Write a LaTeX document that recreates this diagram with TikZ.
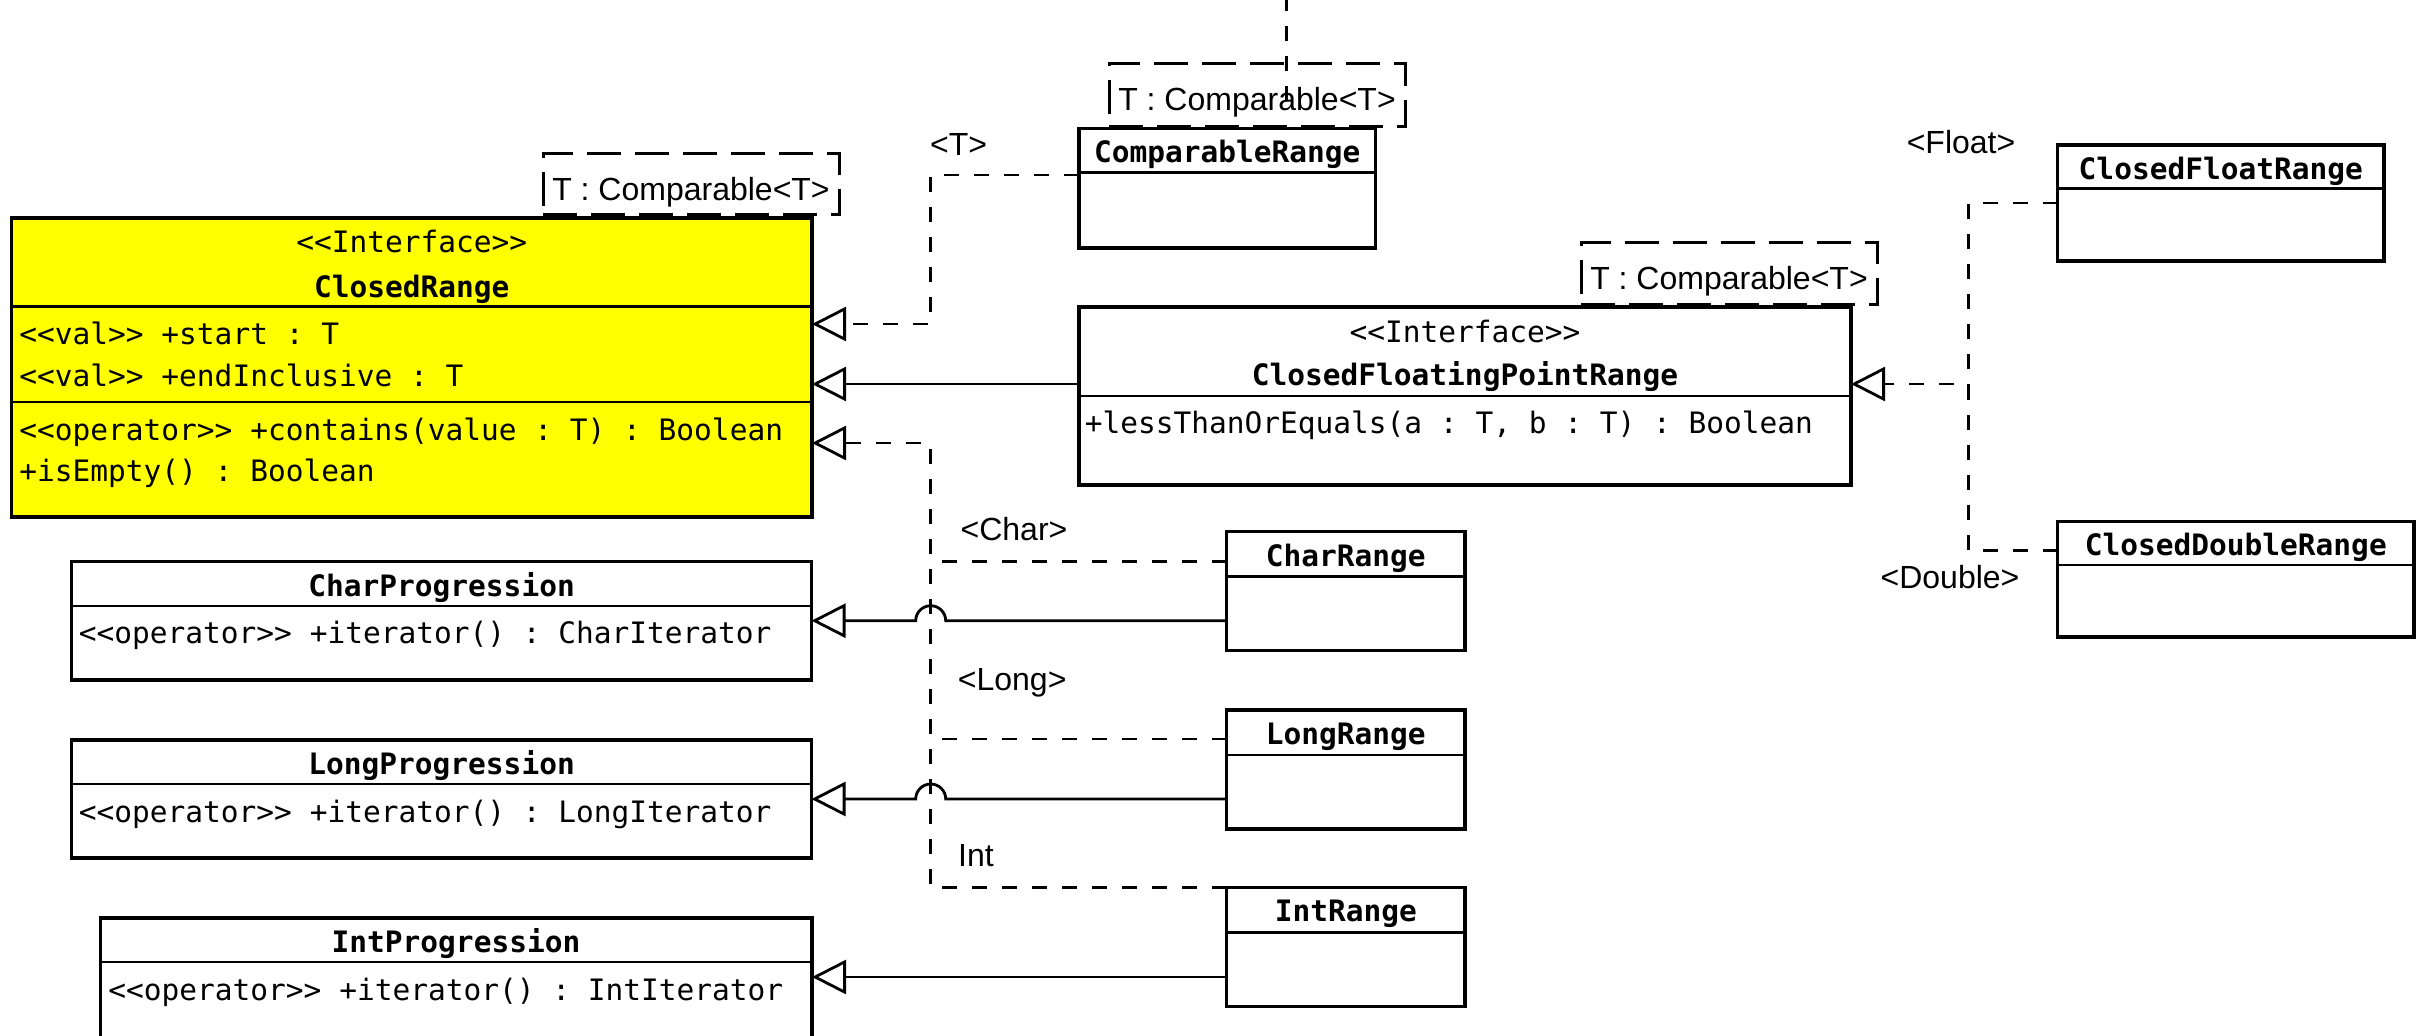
\documentclass[tikz,border=0pt]{standalone}
\usepackage{fontspec}
\setmonofont{DejaVu Sans Mono}
\newfontfamily\labfont{Liberation Sans}
\usetikzlibrary{arrows.meta}
\definecolor{umlyellow}{HTML}{FFFF00}
\newcommand\ubox[6][]{\node[umlbox,#1,minimum width={(#5-#3)*0.5pt},minimum height={(#6-#4)*0.5pt}] (#2) at (#3,#4) {};}
\newcommand\usep[3]{\draw[sepline] (#1,#3) -- (#2,#3);}
\begin{document}
\begin{tikzpicture}[x=0.5pt,y=-0.5pt,
  umlbox/.style={draw, line width=1.6pt, outer sep=0pt, inner sep=0pt, anchor=north west, fill=white},
  sepline/.style={line width=1.4pt},
  tplbox/.style={draw, line width=1.5pt, dash pattern=on 17pt off 7pt, outer sep=0pt, inner sep=0pt, anchor=north west},
  mono/.style={font=\ttfamily\fontsize{14.75}{18}\selectfont, inner sep=0pt, anchor=base west},
  monoc/.style={mono, anchor=base},
  clsname/.style={monoc, font=\ttfamily\bfseries\fontsize{14.75}{18}\selectfont},
  lbl/.style={font=\labfont\fontsize{16}{19}\selectfont, inner sep=0pt, anchor=base},
  gen/.style={line width=1.4pt, -{Triangle[open, length=17pt, width=17pt]}},
  realz/.style={gen, dash pattern=on 7.5pt off 7.5pt},
  plaindash/.style={line width=1.4pt, dash pattern=on 7.5pt off 7.5pt}]
\useasboundingbox (0,0) rectangle (2416,1035);
\clip (0,0) rectangle (2416,1035);

% template boxes
\node[tplbox, minimum width={(839-543)*0.5pt}, minimum height={(214.5-153)*0.5pt}] (crtpl) at (543,153) {};
\node[tplbox, minimum width={(1405-1109)*0.5pt}, minimum height={(126-63)*0.5pt}] (cmptpl) at (1109,63) {};
\node[tplbox, minimum width={(1877-1581)*0.5pt}, minimum height={(304-242)*0.5pt}] (cfprtpl) at (1581,242) {};
\node[lbl] (crtplt) at (691,200) {T : Comparable<T>};
\node[lbl] (cmptplt) at (1257,110.5) {T : Comparable<T>};
\node[lbl] (cfprtplt) at (1729,289.5) {T : Comparable<T>};

% dangling dashed line at top
\coordinate (topA) at (1286.7,-4);
\coordinate (topB) at (1286.7,113);
\draw[plaindash] (topA) -- (topB);

% class boxes
\ubox[fill=umlyellow]{cr}{11.5}{218}{812}{517}
\usep{11.5}{812}{306.5}
\usep{11.5}{812}{402}
\ubox{cmp}{1079}{128.5}{1375.5}{248}
\usep{1079}{1375.5}{172.7}
\ubox{cfpr}{1079}{307}{1851}{485}
\usep{1079}{1851}{396}
\ubox{cfr}{2057.6}{145}{2384}{261}
\usep{2057.6}{2384}{188.5}
\ubox{cdr}{2057.6}{521.7}{2414}{637}
\usep{2057.6}{2414}{565}
\ubox{chp}{71.7}{561.7}{811.5}{680}
\usep{71.7}{811.5}{606}
\ubox{lp}{71.7}{740}{811.5}{858}
\usep{71.7}{811.5}{784}
\ubox{ip}{100.5}{918}{812}{1045}
\usep{100.5}{812}{962}
\ubox{chr}{1226.7}{531.7}{1465}{650.7}
\usep{1226.7}{1465}{576.7}
\ubox{lr}{1226.7}{710}{1465}{829}
\usep{1226.7}{1465}{755}
\ubox{ir}{1226.7}{887.7}{1465}{1006.7}
\usep{1226.7}{1465}{932.7}

% texts
\node[monoc] (crst) at (411.8,252) {<<Interface>>};
\node[clsname] (crn) at (411.8,297) {ClosedRange};
\node[mono] (cra1) at (19,344) {<<val>> +start : T};
\node[mono] (cra2) at (19,386) {<<val>> +endInclusive : T};
\node[mono] (cro1) at (19,440) {<<operator>> +contains(value : T) : Boolean};
\node[mono] (cro2) at (19,481) {+isEmpty() : Boolean};
\node[clsname] (cmpn) at (1227.2,162) {ComparableRange};
\node[monoc] (cfprst) at (1465,342) {<<Interface>>};
\node[clsname] (cfprn) at (1465,385) {ClosedFloatingPointRange};
\node[mono] (cfpro) at (1084.4,433) {+lessThanOrEquals(a : T, b : T) : Boolean};
\node[clsname] (cfrn) at (2220.8,179.4) {ClosedFloatRange};
\node[clsname] (cdrn) at (2235.8,555.6) {ClosedDoubleRange};
\node[clsname] (chpn) at (441.6,596) {CharProgression};
\node[mono] (chpo) at (78.5,643) {<<operator>> +iterator() : CharIterator};
\node[clsname] (lpn) at (441.6,774) {LongProgression};
\node[mono] (lpo) at (78.5,822) {<<operator>> +iterator() : LongIterator};
\node[clsname] (ipn) at (456,952) {IntProgression};
\node[mono] (ipo) at (108,1000) {<<operator>> +iterator() : IntIterator};
\node[clsname] (chrn) at (1345.8,566.7) {CharRange};
\node[clsname] (lrn) at (1345.8,744.3) {LongRange};
\node[clsname] (irn) at (1345.8,921.7) {IntRange};

% labels
\node[lbl] (lt) at (958.7,155) {<T>};
\node[lbl] (lfloat) at (1961,153.4) {<Float>};
\node[lbl] (ldouble) at (1950,588) {<Double>};
\node[lbl] (lchar) at (1014,540.7) {<Char>};
\node[lbl] (llong) at (1012.2,690) {<Long>};
\node[lbl] (lint) at (976,866) {Int};

% junction coordinates
\coordinate (jchar) at (930.7,561.7);
\coordinate (jlong) at (930.7,739);
\coordinate (jfloat) at (1968.5,384);

% connectors to ClosedRange
\draw[realz] (cmp.west |- 0,175) -| (930.7,324) -- (cr.east |- 0,324);
\draw[gen] (cfpr.west |- 0,384) -- (cr.east |- 0,384);
\draw[realz] (ir.west |- 0,887.7) -| (930.7,443) -- (cr.east |- 0,443);
\draw[plaindash] (chr.west |- 0,561.7) -- (jchar);
\draw[plaindash] (lr.west |- 0,739) -- (jlong);

% progressions
\draw[gen] (chr.west |- 0,620.7) -- (945.7,620.7) arc[start angle=0, end angle=-180, radius=15] -- (chp.east |- 0,620.7);
\draw[gen] (lr.west |- 0,799) -- (945.7,799) arc[start angle=0, end angle=-180, radius=15] -- (lp.east |- 0,799);
\draw[gen] (ir.west |- 0,977) -- (ip.east |- 0,977);

% right side
\draw[realz] (cdr.west |- 0,550.5) -| (jfloat) -- (cfpr.east |- 0,384);
\draw[plaindash] (cfr.west |- 0,203) -| (jfloat);
\end{tikzpicture}
\end{document}
